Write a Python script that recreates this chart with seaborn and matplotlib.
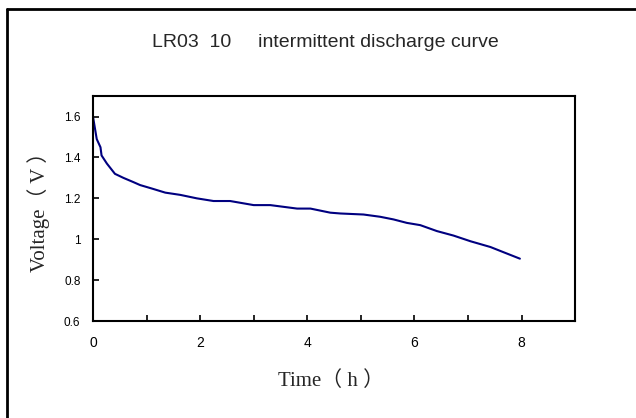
import matplotlib
matplotlib.use("Agg")
import matplotlib.pyplot as plt
import seaborn as sns
import pandas as pd
from matplotlib.lines import Line2D

# discharge curve
time_h = [0.0, 0.07, 0.14, 0.16, 0.21, 0.26, 0.32, 0.41, 0.57, 0.75, 0.88, 1.10, 1.35,
          1.63, 1.94, 2.25, 2.56, 3.0, 3.31, 3.81, 4.06, 4.43, 4.62, 5.05, 5.36, 5.61,
          5.86, 6.11, 6.42, 6.73, 7.05, 7.42, 7.67, 7.97]
voltage = [1.60, 1.49, 1.45, 1.41, 1.39, 1.37, 1.35, 1.32, 1.30, 1.28, 1.265, 1.248,
           1.228, 1.217, 1.20, 1.187, 1.187, 1.167, 1.167, 1.15, 1.15, 1.13, 1.126, 1.121,
           1.11, 1.097, 1.08, 1.069, 1.04, 1.018, 0.99, 0.962, 0.936, 0.905]

x_ticks = [0, 2, 4, 6, 8]
y_ticks = [0.6, 0.8, 1.0, 1.2, 1.4, 1.6]
y_tick_labels = ["0.6", "0.8", "1", "1.2", "1.4", "1.6"]

df = pd.DataFrame({"time": time_h, "voltage": voltage})

sns.set_style("ticks")
plt.rcParams["font.family"] = ["Liberation Sans", "DejaVu Sans"]

fig = plt.figure(figsize=(6.36, 4.18), dpi=100)
ax = fig.add_axes([0.1462, 0.232, 0.758, 0.538])

sns.lineplot(data=df, x="time", y="voltage", ax=ax, color="#000080", linewidth=1.5)

ax.set_xlim(0, 9)
ax.set_ylim(0.6, 1.7)
ax.set_xticks(range(0, 10))
ax.set_xticklabels([str(t) if t in x_ticks else "" for t in range(0, 10)])
ax.set_yticks(y_ticks)
ax.set_yticklabels(y_tick_labels)
ax.tick_params(direction="in", length=4, width=1.2, colors="black")
ax.tick_params(axis="x", labelsize=10, pad=11)
ax.tick_params(axis="y", labelsize=8.5, pad=9)
ax.set_xlabel("")
ax.set_ylabel("")
for s in ax.spines.values():
    s.set_linewidth(1.5)
    s.set_color("black")

serif = ["Liberation Serif", "Noto Sans CJK SC"]
fig.text(0.520, 0.089, "Time（ h ）", family=serif, fontsize=15, ha="center", va="center")
fig.text(0.060, 0.506, "Voltage（ V ）", family=serif, fontsize=15, ha="center",
         va="center", rotation=90)

fig.text(0.511, 0.898, "LR03  10     intermittent discharge curve", ha="center",
         va="center", fontsize=14)

# outer frame (top and left only visible)
fig.add_artist(Line2D([0.0110, 1.0], [0.979, 0.979], transform=fig.transFigure,
                      color="black", linewidth=2))
fig.add_artist(Line2D([0.0110, 0.0110], [0.0, 0.979], transform=fig.transFigure,
                      color="black", linewidth=2))

fig.savefig("out.png", dpi=100)
